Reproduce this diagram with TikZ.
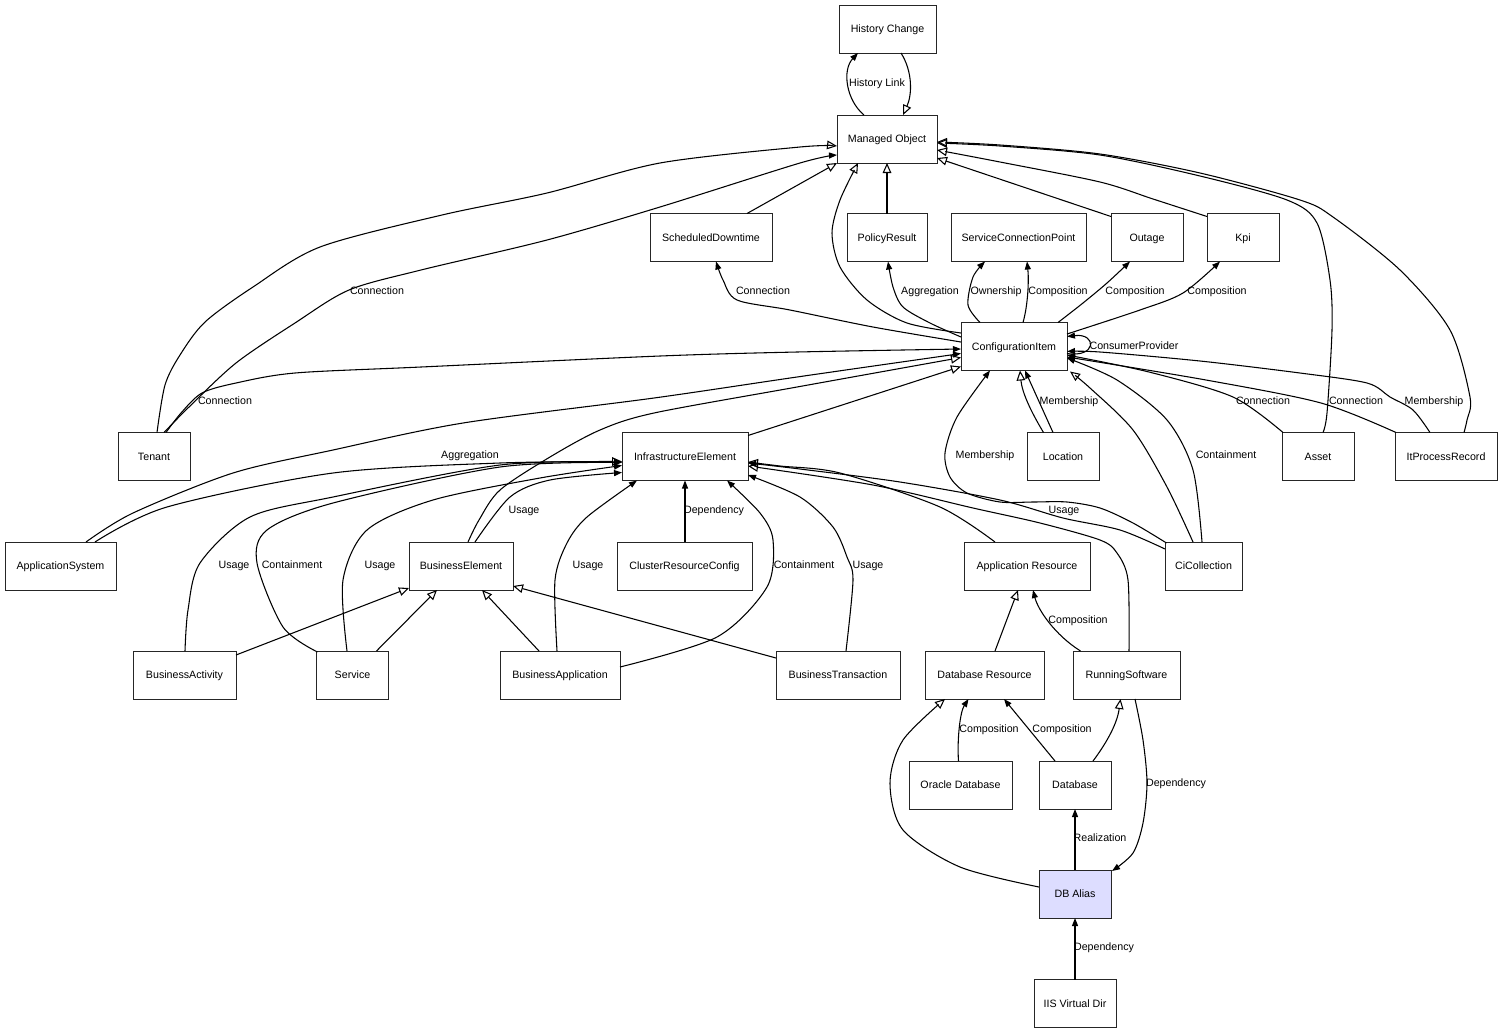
\documentclass[tikz,border=0pt]{standalone}
\usepackage{fontspec}
\setmainfont{Liberation Sans}
\usetikzlibrary{arrows.meta,calc}
\definecolor{aliasfill}{RGB}{221,221,255}
\newcommand\lfont{\fontsize{8}{9.6}\selectfont}
\tikzset{
  box/.style={draw=black!85, line width=0.75pt, minimum height=36pt, inner sep=0pt, font=\lfont, fill=white, text height=6.8pt, text depth=1pt},
  lbl/.style={font=\lfont, inner sep=0pt, text height=6.8pt, text depth=1pt},
  gen/.style={line width=0.8pt, -{Triangle[open,length=7.5pt,width=6.5pt]}},
  assoc/.style={line width=0.8pt, -{Triangle[length=6pt,width=4.5pt]}},
}
\begin{document}
\begin{tikzpicture}[x=0.75pt,y=-0.75pt]
\fill[white] (0,0) rectangle (1503,1033);
\useasboundingbox (0,0) rectangle (1503,1033);
% nodes
\node[box, minimum width=72.75pt] (hc) at (887.5,29) {History Change};
\node[box, minimum width=75pt] (mo) at (887,139) {Managed Object};
\node[box, minimum width=91.5pt] (sd) at (711,237.5) {ScheduledDowntime};
\node[box, minimum width=60pt] (pr) at (887,237.5) {PolicyResult};
\node[box, minimum width=101.25pt] (scp) at (1018.5,237.5) {ServiceConnectionPoint};
\node[box, minimum width=54pt] (out) at (1147,237.5) {Outage};
\node[box, minimum width=54pt] (kpi) at (1243,237.5) {Kpi};
\node[box, minimum width=79.5pt] (ci) at (1014,346.5) {ConfigurationItem};
\node[box, minimum width=54pt] (ten) at (154,456.5) {Tenant};
\node[box, minimum width=94.5pt] (ie) at (685,456.5) {InfrastructureElement};
\node[box, minimum width=54pt] (loc) at (1063,456.5) {Location};
\node[box, minimum width=54pt] (asset) at (1318,456.5) {Asset};
\node[box, minimum width=76.5pt] (ipr) at (1446,456.5) {ItProcessRecord};
\node[box, minimum width=83.25pt] (as) at (60.5,566) {ApplicationSystem};
\node[box, minimum width=78pt] (be) at (461,566) {BusinessElement};
\node[box, minimum width=101.25pt] (crc) at (684.5,566) {ClusterResourceConfig};
\node[box, minimum width=94.5pt] (ar) at (1027,566) {Application Resource};
\node[box, minimum width=57.75pt] (cic) at (1203.5,566) {CiCollection};
\node[box, minimum width=77.25pt] (ba) at (184.5,675) {BusinessActivity};
\node[box, minimum width=54pt] (svc) at (352.5,675) {Service};
\node[box, minimum width=90pt] (bapp) at (560,675) {BusinessApplication};
\node[box, minimum width=93pt] (bt) at (838,675) {BusinessTransaction};
\node[box, minimum width=89.25pt] (dr) at (984.5,675) {Database Resource};
\node[box, minimum width=80.25pt] (rs) at (1126.5,675) {RunningSoftware};
\node[box, minimum width=77.25pt] (od) at (960.5,785) {Oracle Database};
\node[box, minimum width=54pt] (db) at (1075,785) {Database};
\node[box, minimum width=54pt, fill=aliasfill] (dba) at (1075,894) {DB Alias};
\node[box, minimum width=61.5pt] (iis) at (1075,1003.5) {IIS Virtual Dir};
% edges
\draw[assoc] ($(mo)+(-23,-24)$) .. controls (846,100) and (842,70) .. ($(hc)+(-29.5,24)$);
\draw[gen] ($(hc)+(13.5,24)$) .. controls (913,72) and (912,95) .. ($(mo)+(16,-24)$);
\draw[gen] plot[smooth] coordinates {($(ten)+(3,-24)$) (165,385) (180,355) (205,322) (253,287) (320,247) (442,215) (547,193) (660,163) (800,147) ($(mo)+(-50,7)$)};
\draw[assoc] plot[smooth] coordinates {($(ten)+(10,-24)$) (189,407) (236,363) (295,323) (349,290) (421,270) (547,240) (660,207) (800,163) ($(mo)+(-50,16)$)};
\draw[assoc] plot[smooth] coordinates {($(ten)+(12,-24)$) (181,413) (202,393) (236,383) (295,373) (421,367) (660,356) (797,352) ($(ci)+(-53,2.5)$)};
\draw[gen] ($(sd)+(36,-24)$) -- ($(mo)+(-50,24)$);
\draw[gen] ($(pr)+(0,-24)$) -- ($(mo)+(0,24)$);
\draw[gen] plot[smooth] coordinates {($(ci)+(-53,-13.5)$) (907,323) (867,300) (840,267) (832,233) (840,200) ($(mo)+(-29,24)$)};
\draw[assoc] plot[smooth] coordinates {($(ci)+(-53,-4.5)$) (873,327) (790,310) (737,300) (723,280) ($(sd)+(5,24)$)};
\draw[assoc] plot[smooth] coordinates {($(ci)+(-53,-9.5)$) (930,323) (903,307) (893,287) ($(pr)+(1,24)$)};
\draw[assoc] plot[smooth] coordinates {($(ci)+(-34,-24)$) (968,305) (973,277) ($(scp)+(-33.5,24)$)};
\draw[assoc] ($(ci)+(9,-24)$) .. controls (1028,305) and (1029,280) .. ($(scp)+(8.5,24)$);
\draw[assoc] plot[smooth] coordinates {($(ci)+(44,-24)$) (1083,303) (1107,283) ($(out)+(-17,24)$)};
\draw[assoc] plot[smooth] coordinates {($(ci)+(53,-12.5)$) (1140,310) (1183,293) ($(kpi)+(-23,24)$)};
\draw[gen] ($(out)+(-36,-21)$) -- ($(mo)+(50,19)$);
\draw[gen] plot[smooth] coordinates {($(kpi)+(-36,-21)$) (1153,199) (1100,182) (1000,162) ($(mo)+(50,11)$)};
\draw[gen] plot[smooth] coordinates {($(asset)+(5,-24)$) (1327,413) (1332,330) (1330,280) (1317,223) (1287,200) (1200,176) (1100,155) (1000,146) ($(mo)+(50,4)$)};
\draw[gen] plot[smooth] coordinates {($(ipr)+(18,-24)$) (1467,420) (1470,397) (1450,330) (1400,270) (1333,217) (1300,200) (1200,173) (1100,154) (1000,145) ($(mo)+(50,3)$)};
\draw[assoc] plot[smooth] coordinates {($(asset)+(-35,-24)$) (1233,397) (1149,372) ($(ci)+(53,8.5)$)};
\draw[assoc] plot[smooth] coordinates {($(ipr)+(-50,-24)$) (1321,403) (1206,380) ($(ci)+(53,10.5)$)};
\draw[assoc] plot[smooth] coordinates {($(ipr)+(-16,-24)$) (1413,410) (1390,397) (1367,383) (1300,373) (1200,361) (1100,352) ($(ci)+(53,5)$)};
\draw[assoc] plot[smooth] coordinates {($(cic)+(-1.5,-24)$) (1193,470) (1167,420) (1117,380) ($(ci)+(53,11.5)$)};
\draw[gen] plot[smooth] coordinates {($(cic)+(-10.5,-24)$) (1167,487) (1133,430) (1090,388) ($(ci)+(56,25)$)};
\draw[assoc] plot[smooth] coordinates {($(cic)+(-37,-23)$) (1133,523) (1100,508) (1067,502) (1033,502) (1000,502) (967,493) (950,477) (945,453) (957,417) ($(ci)+(-24,24)$)};
\draw[assoc] plot[smooth] coordinates {($(cic)+(-38.5,-17)$) (1120,530) (1063,518) (1000,500) (900,482) (800,469) ($(ie)+(63,6.5)$)};
\draw[gen] plot[smooth] coordinates {($(ar)+(-32,-24)$) (940,507) (840,473) (780,466) ($(ie)+(63,5.5)$)};
\draw[gen] plot[smooth] coordinates {($(rs)+(2.5,-24)$) (1128,580) (1117,553) (1100,540) (1040,523) (973,508) (873,485) ($(ie)+(63,9.5)$)};
\draw[assoc] plot[smooth] coordinates {($(bt)+(8,-24)$) (853,580) (847,557) (833,527) (800,497) ($(ie)+(63,18.5)$)};
\draw[assoc] plot[smooth] coordinates {($(bapp)+(60,-8)$) (717,637) (767,587) (773,540) (760,513) ($(ie)+(42,24)$)};
\draw[assoc] ($(crc)+(0.5,-24)$) -- ($(ie)+(0,24)$);
\draw[assoc] plot[smooth] coordinates {($(bapp)+(-3,-24)$) (555,580) (567,543) (587,517) ($(ie)+(-48,24)$)};
\draw[assoc] plot[smooth] coordinates {($(be)+(14,-24)$) (510,497) (550,480) ($(ie)+(-63,16)$)};
\draw[gen] plot[smooth] coordinates {($(be)+(7,-24)$) (479,520) (500,490) (550,457) (600,430) (654,413) (797,387) ($(ci)+(-53,11)$)};
\draw[gen] ($(ie)+(63,-21)$) -- ($(ci)+(-53,20)$);
\draw[assoc] plot[smooth] coordinates {($(as)+(25.5,-24)$) (133,513) (233,473) (333,450) (463,423) (654,398) (797,377) ($(ci)+(-53,7)$)};
\draw[gen] plot[smooth] coordinates {($(as)+(34.5,-24)$) (167,507) (333,473) (500,463) ($(ie)+(-63,5)$)};
\draw[assoc] plot[smooth] coordinates {($(ba)+(0.5,-24)$) (188,610) (200,563) (250,517) (333,497) (500,465) ($(ie)+(-63,5.5)$)};
\draw[assoc] plot[smooth] coordinates {($(svc)+(-35,-23)$) (283,627) (257,563) (267,530) (333,503) (500,467) ($(ie)+(-63,6)$)};
\draw[assoc] plot[smooth] coordinates {($(svc)+(-5.5,-24)$) (343,580) (367,530) (433,500) (540,478) ($(ie)+(-63,9)$)};
\draw[gen] ($(ba)+(51.5,-20)$) -- ($(be)+(-52,22)$);
\draw[gen] ($(svc)+(24,-24)$) -- ($(be)+(-24,24)$);
\draw[gen] ($(bapp)+(-21,-24)$) -- ($(be)+(21,24)$);
\draw[gen] ($(bt)+(-62,-17)$) -- ($(be)+(52,20)$);
\draw[gen] ($(dr)+(10.5,-24)$) -- ($(ar)+(-9,24)$);
\draw[assoc] ($(rs)+(-46,-24)$) .. controls (1055,635) and (1038,610) .. ($(ar)+(6,24)$);
\draw[assoc] ($(od)+(-2,-24)$) .. controls (957,740) and (960,712) .. ($(dr)+(-16,24)$);
\draw[assoc] ($(db)+(-20,-24)$) -- ($(dr)+(19.5,24)$);
\draw[gen] ($(db)+(18,-24)$) .. controls (1105,745) and (1117,725) .. ($(rs)+(-6,24)$);
\draw[assoc] plot[smooth] coordinates {($(rs)+(8.5,24)$) (1143,740) (1147,783) (1143,823) (1133,853) ($(dba)+(37,-23)$)};
\draw[assoc] ($(dba)+(0,-24)$) -- ($(db)+(0,24)$);
\draw[gen] plot[smooth] coordinates {($(dba)+(-36,-7)$) (960,867) (903,830) (890,783) (903,740) ($(dr)+(-39.5,24)$)};
\draw[assoc] ($(iis)+(0,-24)$) -- ($(dba)+(0,24)$);
\draw[gen] ($(loc)+(-19.5,-24)$) .. controls (1030,410) and (1022,392) .. ($(ci)+(6,24)$);
\draw[assoc] ($(loc)+(-10,-24)$) -- ($(ci)+(11,24)$);
\draw[assoc] ($(ci)+(53,7)$) .. controls (1097,358) and (1097,333) .. ($(ci)+(53,-10)$);
% labels
\node[lbl] (l1) at (877,83) {History Link};
\node[lbl] (l2) at (377,291) {Connection};
\node[lbl] (l3) at (763,291) {Connection};
\node[lbl] (l4) at (930,291) {Aggregation};
\node[lbl] (l5) at (996,291) {Ownership};
\node[lbl] (l6) at (1058,291) {Composition};
\node[lbl] (l7) at (1135,291) {Composition};
\node[lbl] (l8) at (1217,291) {Composition};
\node[lbl] (l9) at (1134,346) {ConsumerProvider};
\node[lbl] (l10) at (225,401) {Connection};
\node[lbl] (l11) at (1069,401) {Membership};
\node[lbl] (l12) at (1263,401) {Connection};
\node[lbl] (l13) at (1356,401) {Connection};
\node[lbl] (l14) at (1434,401) {Membership};
\node[lbl] (l15) at (470,455) {Aggregation};
\node[lbl] (l16) at (985,455) {Membership};
\node[lbl] (l17) at (1226,455) {Containment};
\node[lbl] (l18) at (524,510) {Usage};
\node[lbl] (l19) at (714,510) {Dependency};
\node[lbl] (l20) at (1064,510) {Usage};
\node[lbl] (l21) at (234,565) {Usage};
\node[lbl] (l22) at (292,565) {Containment};
\node[lbl] (l23) at (380,565) {Usage};
\node[lbl] (l24) at (588,565) {Usage};
\node[lbl] (l25) at (804,565) {Containment};
\node[lbl] (l26) at (868,565) {Usage};
\node[lbl] (l27) at (1078,620) {Composition};
\node[lbl] (l28) at (989,729) {Composition};
\node[lbl] (l29) at (1062,729) {Composition};
\node[lbl] (l30) at (1176,783) {Dependency};
\node[lbl] (l31) at (1100,838) {Realization};
\node[lbl] (l32) at (1104,947) {Dependency};
\end{tikzpicture}
\end{document}
